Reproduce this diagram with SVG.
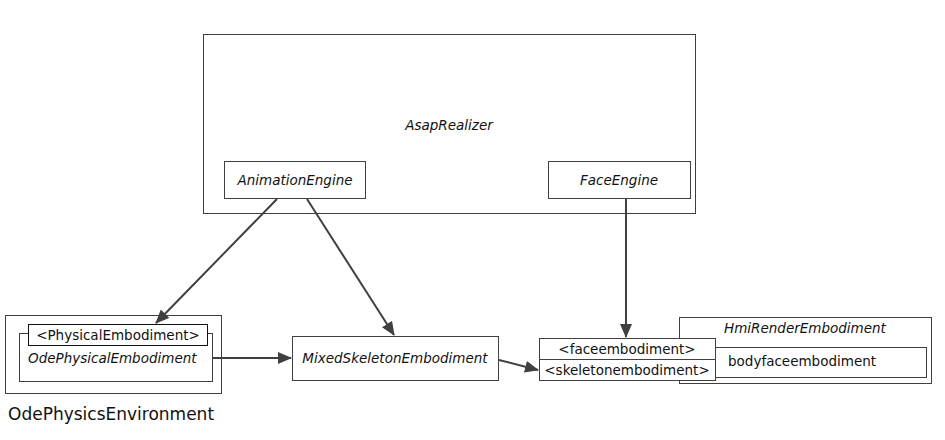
<svg xmlns="http://www.w3.org/2000/svg" width="945" height="440" viewBox="0 0 945 440">
<defs>
<marker id="arr" markerWidth="14" markerHeight="12" refX="13" refY="6" orient="auto" markerUnits="userSpaceOnUse">
<path d="M0,0 L14,6 L0,12 z" fill="#404040"/>
</marker>
<style>
.box{fill:#fff;stroke:#404040;stroke-width:1}
.t{font-family:"DejaVu Sans",Verdana,sans-serif;font-size:13.5px;fill:#111}
.i{font-style:italic}
.c{stroke:#404040;stroke-width:2;fill:none;marker-end:url(#arr)}
</style>
</defs>
<rect width="945" height="440" fill="#fff"/>
<g id="AsapRealizer">
<rect class="box" x="203.5" y="34.5" width="492" height="179"/>
<text class="t i" x="449" y="130" text-anchor="middle">AsapRealizer</text>
</g>
<g id="AnimationEngine">
<rect class="box" x="224.5" y="161.5" width="141" height="37"/>
<text class="t i" x="295" y="185" text-anchor="middle">AnimationEngine</text>
</g>
<g id="FaceEngine">
<rect class="box" x="548.5" y="161.5" width="142" height="37"/>
<text class="t i" x="619" y="185" text-anchor="middle">FaceEngine</text>
</g>
<g id="OdePhysicsEnvironment">
<rect class="box" x="5.5" y="315.5" width="216" height="78"/>
<text x="8" y="420" style="font-family:'DejaVu Sans',Verdana,sans-serif;font-size:17px;fill:#111">OdePhysicsEnvironment</text>
</g>
<g id="OdePhysicalEmbodiment">
<rect class="box" x="19.5" y="333.5" width="193" height="48"/>
<text class="t i" x="28" y="363">OdePhysicalEmbodiment</text>
</g>
<g id="PhysicalEmbodiment">
<rect x="28.5" y="324.5" width="179" height="21" fill="#fff" stroke="#111"/>
<text class="t" x="118" y="340" text-anchor="middle">&lt;PhysicalEmbodiment&gt;</text>
</g>
<g id="MixedSkeletonEmbodiment">
<rect class="box" x="292.5" y="336.5" width="206" height="44"/>
<text class="t i" x="395" y="363" text-anchor="middle">MixedSkeletonEmbodiment</text>
</g>
<g id="HmiRenderEmbodiment">
<rect class="box" x="679.5" y="317.5" width="252" height="66"/>
<text class="t i" x="805" y="333" text-anchor="middle">HmiRenderEmbodiment</text>
</g>
<g id="bodyfaceembodiment">
<rect class="box" x="690.5" y="347.5" width="236" height="30"/>
<text class="t" x="728" y="366">bodyfaceembodiment</text>
</g>
<g id="faceembodiment">
<rect class="box" x="539.5" y="338.5" width="176" height="21"/>
<text class="t" x="627" y="354" text-anchor="middle">&lt;faceembodiment&gt;</text>
</g>
<g id="skeletonembodiment">
<rect class="box" x="539.5" y="359.5" width="176" height="21"/>
<text class="t" x="627" y="375" text-anchor="middle">&lt;skeletonembodiment&gt;</text>
</g>
<g id="connectors">
<line class="c" x1="277" y1="199" x2="156" y2="323"/>
<line class="c" x1="307" y1="199" x2="394" y2="335"/>
<line class="c" x1="626" y1="199" x2="626" y2="337"/>
<line class="c" x1="213" y1="358" x2="291" y2="358"/>
<line class="c" x1="499" y1="360" x2="538" y2="370"/>
</g>
</svg>
